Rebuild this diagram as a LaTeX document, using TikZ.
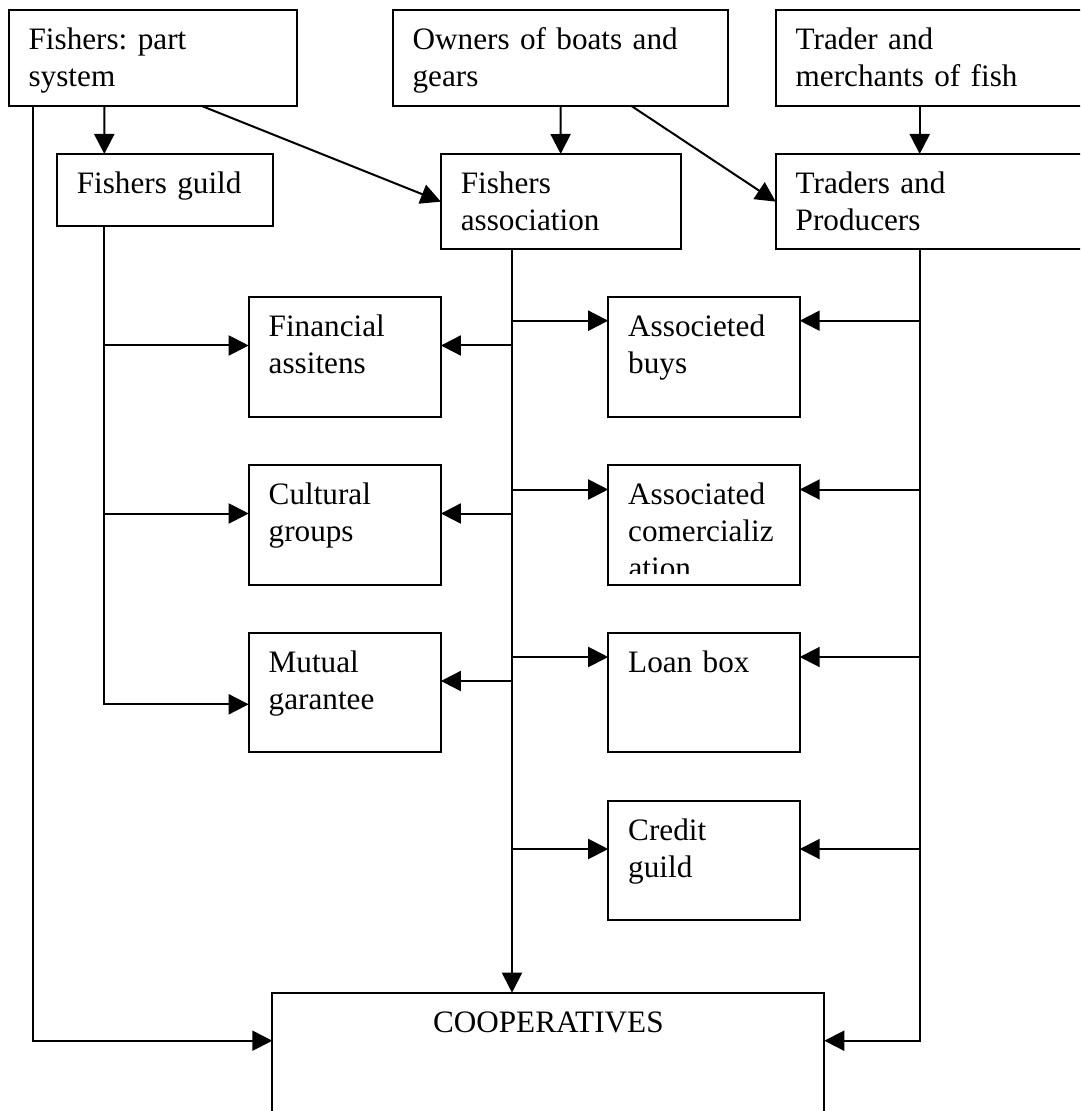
\documentclass[tikz,border=0pt]{standalone}
\usepackage{fontspec}
\setmainfont{Liberation Serif}
\usepackage{tikz}
\usetikzlibrary{arrows.meta}
\frenchspacing

\begin{document}
\begin{tikzpicture}[x=0.5pt,y=-0.5pt,font=\fontsize{15.6pt}{18.4pt}\selectfont]
	\clip (0,0) rectangle (1080,1111);
	\fill[white] (0,0) rectangle (1080,1111);
	\begin{scope}[every node/.style={draw,line width=1pt,anchor=north west,outer sep=0pt,
	              inner xsep=10pt,inner ysep=0pt,align=left,text height=19.65pt}]
		\node[text width=124.1pt,text depth=28.2pt] (1) at (8.6,10) {Fishers: part\\system};
		\node[text width=147.9pt,text depth=28.2pt] (2) at (392.6,10) {Owners of boats and\\gears};
		\node[text width=150pt,text depth=28.2pt] (3) at (775.7,10) {Trader and\\merchants of fish};
		\node[text width=88pt,text depth=16.2pt] (4) at (56.8,154) {Fishers guild};
		\node[text width=99.85pt,text depth=28pt] (5) at (440.8,154) {Fishers\\association};
		\node[text width=150pt,text depth=28pt] (6) at (775.7,154) {Traders and\\Producers};
		\node[text width=76.1pt,text depth=40pt] (7) at (248.7,297.5) {Financial\\assitens};
		\node[text width=75.75pt,text depth=40pt] (8) at (608.2,297.5) {Associeted\\buys};
		\node[text width=76.1pt,text depth=40pt] (9) at (248.7,465.5) {Cultural\\groups};
		\node[text width=75.75pt,text depth=40pt] (10) at (608.2,465.5) {Associated\\comercializ};
		\node[text width=76.1pt,text depth=40pt] (11) at (248.7,633) {Mutual\\garantee};
		\node[text width=75.75pt,text depth=40pt] (12) at (608.2,633) {Loan box};
		\node[text width=75.75pt,text depth=40pt] (13) at (608.2,801) {Credit\\guild};
		\node[text width=256pt,text depth=120pt,align=center] (14) at (272.3,992.7) {COOPERATIVES};
	\end{scope}

	% last line of the cut text
	\begin{scope}
		\clip (10.north west) rectangle ([yshift=-54pt]10.north east);
		\node[anchor=base west,inner sep=0pt] (15) at ([xshift=10pt,yshift=-56.45pt]10.north west) {ation};
	\end{scope}

	\begin{scope}[>={Triangle[length=10pt,width=10pt]},line width=1pt]
		\draw[->] ([xshift=12pt]1.south west) |- ([yshift=-24pt]14.north west);
		\draw[->] ([xshift=47.85pt]1.south west) -- ([xshift=23.75pt]4.north west);
		\draw[->] ([xshift=96.2pt]1.south west) -- (5.west);
		\draw[->] (2.south) -- (5.north);
		\draw[->] ([xshift=119.2pt]2.south west) -- (6.west);
		\draw[->] ([xshift=72pt]3.south west) -- ([xshift=72pt]6.north west);

		\draw[->] ([xshift=23.75pt]4.south west) |- ([yshift=-24pt]7.north west);
		\draw[->] ([xshift=23.75pt]4.south west) |- ([yshift=-24pt]9.north west);
		\draw[->] ([xshift=23.75pt]4.south west) |- ([yshift=-35.65pt]11.north west);

		\draw[->] ([xshift=35.6pt]5.south west) -- ([xshift=119.85pt]14.north west);
		\draw[->] ([xshift=35.6pt]5.south west) |- ([yshift=-24pt]7.north east);
		\draw[->] ([xshift=35.6pt]5.south west) |- ([yshift=-24pt]9.north east);
		\draw[->] ([xshift=35.6pt]5.south west) |- ([yshift=-24pt]11.north east);
		\draw[->] ([xshift=35.6pt]5.south west) |- ([yshift=-11.6pt]8.north west);
		\draw[->] ([xshift=35.6pt]5.south west) |- ([yshift=-12pt]10.north west);
		\draw[->] ([xshift=35.6pt]5.south west) |- ([yshift=-12pt]12.north west);
		\draw[->] ([xshift=35.6pt]5.south west) |- ([yshift=-24pt]13.north west);

		\draw[->] ([xshift=72pt]6.south west) |- ([yshift=-11.6pt]8.north east);
		\draw[->] ([xshift=72pt]6.south west) |- ([yshift=-12pt]10.north east);
		\draw[->] ([xshift=72pt]6.south west) |- ([yshift=-12pt]12.north east);
		\draw[->] ([xshift=72pt]6.south west) |- ([yshift=-24pt]13.north east);
		\draw[->] ([xshift=72pt]6.south west) |- ([yshift=-24pt]14.north east);
	\end{scope}
\end{tikzpicture}
\end{document}
